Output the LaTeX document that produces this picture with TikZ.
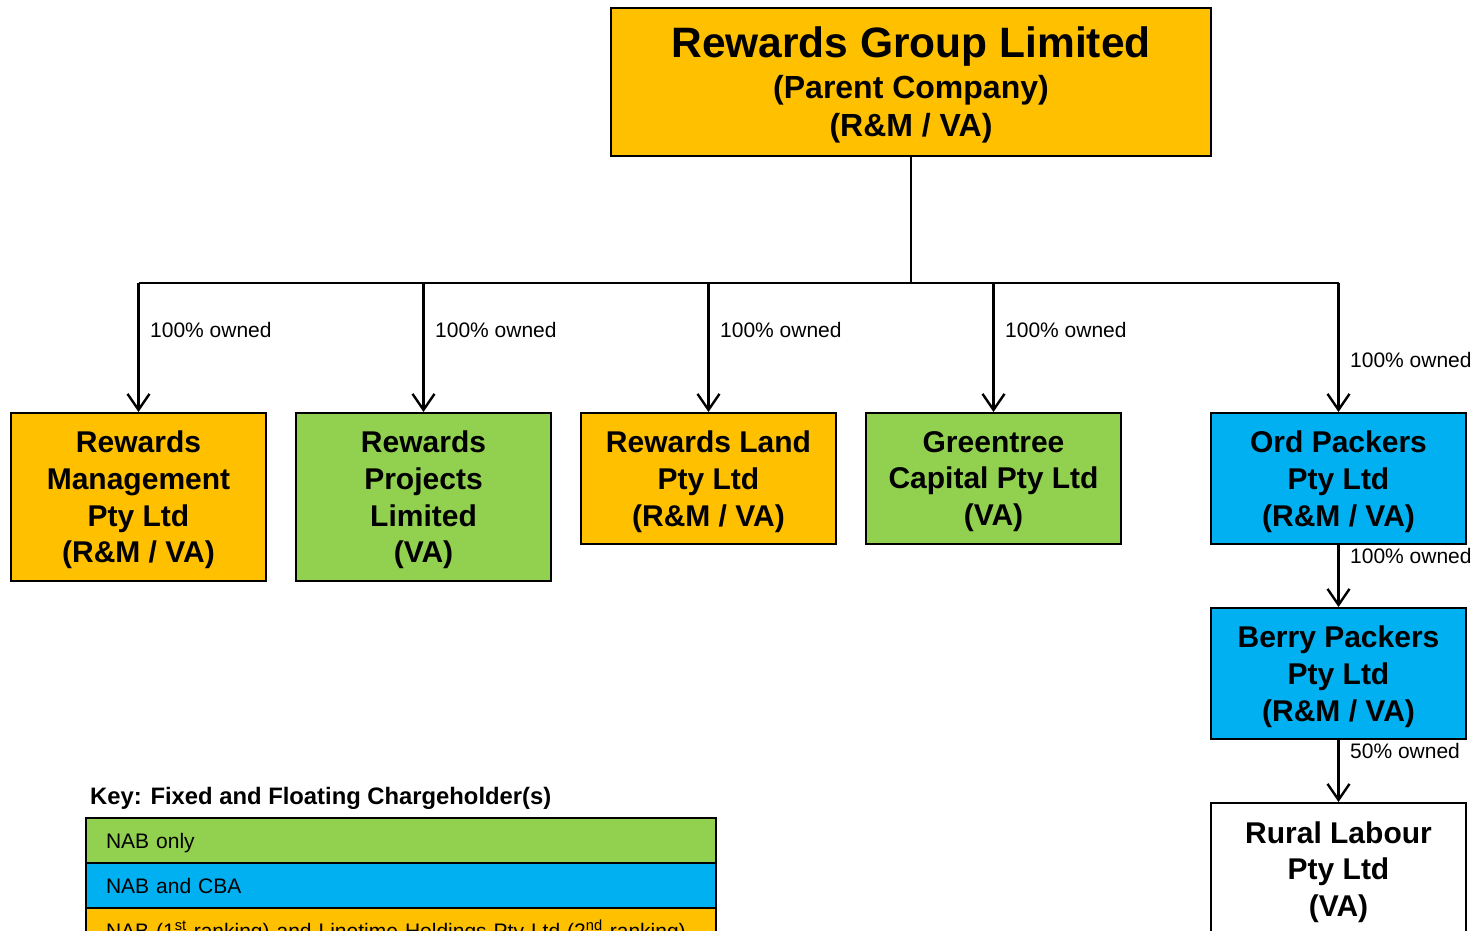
\documentclass[tikz,border=0pt]{standalone}
\usepackage{fontspec}
\setmainfont{Liberation Sans}
\usetikzlibrary{arrows.meta}
\definecolor{orgfill}{HTML}{FFC000}
\definecolor{nabgreen}{HTML}{92D050}
\definecolor{nabblue}{HTML}{00B0F0}
\begin{document}
\begin{tikzpicture}[x=1pt,y=-1pt,
  company/.style={draw=black, line width=2pt, anchor=north west,
    minimum width=255pt, inner sep=0pt, align=center, text depth=0pt,
    font=\fontsize{30}{36.7}\selectfont\bfseries},
  link/.style={line width=2.8pt},
  owns/.style={link, -{Straight Barb[length=16pt,width=22pt,line width=2.4pt]}},
  share/.style={font=\fontsize{21}{24}\selectfont, anchor=west, inner sep=0pt},
  keyrow/.style={draw=black, line width=2pt, anchor=north west,
    minimum width=630pt, minimum height=45pt, inner ysep=0pt, inner xsep=20pt,
    text width=590pt, align=left, text height=15.5pt, text depth=0pt,
    font=\fontsize{21}{24}\selectfont}]
\useasboundingbox (0,0) rectangle (1477,931);
\clip (0,0) rectangle (1477,931);

% parent company
\node[company, fill=orgfill, minimum width=600pt, minimum height=148pt,
      text depth=0pt, font=\fontsize{32}{38}\selectfont\bfseries] (parent) at (610,7)
  {{\fontsize{42.5}{44}\selectfont Rewards Group Limited}\\[3pt]
   (Parent Company)\\
   (R\&M / VA)};

% subsidiaries
\node[company, fill=orgfill, minimum height=168pt] (mgmt) at (10,412)
  {Rewards\\Management\\Pty Ltd\\(R\&M / VA)};
\node[company, fill=nabgreen, minimum height=168pt] (proj) at (295,412)
  {Rewards\\Projects\\Limited\\(VA)};
\node[company, fill=orgfill, minimum height=131pt] (land) at (580,412)
  {Rewards Land\\Pty Ltd\\(R\&M / VA)};
\node[company, fill=nabgreen, minimum height=131pt] (green) at (865,412)
  {Greentree\\Capital Pty Ltd\\(VA)};
\node[company, fill=nabblue, minimum height=131pt] (ord) at (1210,412)
  {Ord Packers\\Pty Ltd\\(R\&M / VA)};
\node[company, fill=nabblue, minimum height=131pt] (berry) at (1210,607)
  {Berry Packers\\Pty Ltd\\(R\&M / VA)};
\node[company, fill=white, minimum height=132pt] (rural) at (1210,802)
  {Rural Labour\\Pty Ltd\\(VA)};

% ownership lines
\draw[link] (parent.south) -- (parent.south |- 0,283) coordinate (bus);
\draw[link] (bus -| mgmt.north) -- (bus -| ord.north);
\foreach \c in {mgmt,proj,land,green,ord}
  \draw[owns] (bus -| \c.north) -- (\c.north);
\draw[owns] (ord.south) -- (berry.north);
\draw[owns] (berry.south) -- (rural.north);

% ownership labels
\node[share] (s1) at (150,330) {100\% owned};
\node[share] (s2) at (435,330) {100\% owned};
\node[share] (s3) at (720,330) {100\% owned};
\node[share] (s4) at (1005,330) {100\% owned};
\node[share] (s5) at (1350,360) {100\% owned};
\node[share] (s6) at (1350,556) {100\% owned};
\node[share] (s7) at (1350,751) {50\% owned};

% key
\node[anchor=west, inner sep=0pt, font=\fontsize{23.8}{27}\selectfont\bfseries]
  (keytitle) at (90,798) {Key: Fixed and Floating Chargeholder(s)};
\node[keyrow, fill=nabgreen] (k1) at (85,817) {NAB only};
\node[keyrow, fill=nabblue] (k2) at (85,862) {NAB and CBA};
\node[keyrow, fill=orgfill] (k3) at (85,907)
  {NAB (1\textsuperscript{st} ranking) and Linetime Holdings Pty Ltd (2\textsuperscript{nd} ranking)};
\end{tikzpicture}
\end{document}
